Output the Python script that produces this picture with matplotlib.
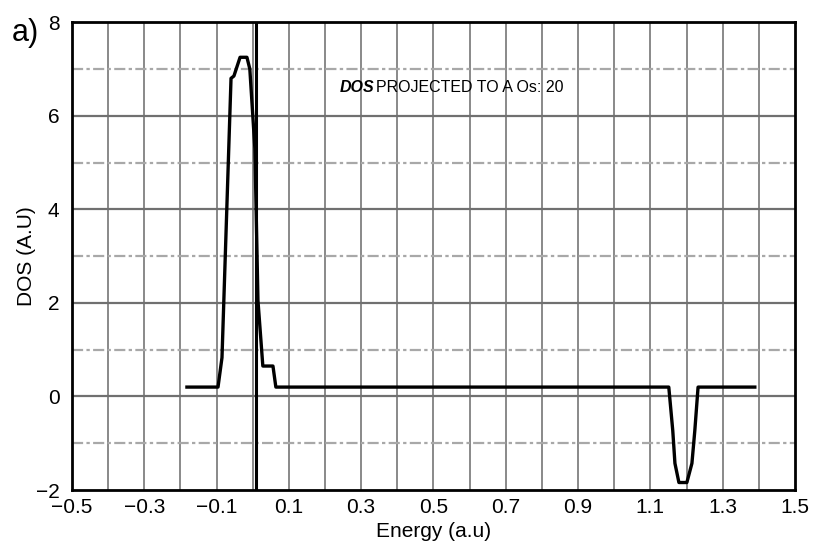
import numpy as np
import matplotlib.pyplot as plt

plt.rcParams["font.family"] = ["Liberation Sans", "DejaVu Sans"]

# DOS curve
energia = [-0.182, -0.096, -0.085, -0.060, -0.052, -0.035, -0.016, -0.008, 0.006,
           0.0145, 0.028, 0.056, 0.064, 0.60, 1.151, 1.162, 1.168, 1.179, 1.201,
           1.215, 1.223, 1.232, 1.389]
dos = [0.2, 0.2, 0.83, 6.8, 6.85, 7.25, 7.25, 7.0, 5.3,
       2.05, 0.65, 0.65, 0.2, 0.2, 0.2, -0.73, -1.43, -1.84, -1.84,
       -1.43, -0.73, 0.2, 0.2]
nivel_fermi = 0.01

xticks = [-0.5, -0.3, -0.1, 0.1, 0.3, 0.5, 0.7, 0.9, 1.1, 1.3, 1.5]
yticks = [-2, 0, 2, 4, 6, 8]

fig = plt.figure(figsize=(8.16, 5.51), dpi=100)
ax = fig.add_axes([0.0882, 0.1107, 0.886, 0.849])

# grade
for x in np.arange(-0.4, 1.45, 0.1):
    ax.axvline(x, color="#808080", linewidth=1.3, zorder=1)
for y in range(-1, 8):
    if y % 2 == 0:
        ax.axhline(y, color="#707070", linewidth=1.6, zorder=1)
    else:
        ax.axhline(y, color="#a8a8a8", linewidth=1.6, linestyle=(0, (5, 1.5, 1.5, 1.5)), zorder=1)

ax.axvline(nivel_fermi, color="black", linewidth=2.2, zorder=3)
ax.plot(energia, dos, color="black", linewidth=2.4, zorder=4)

ax.set_xlim(-0.5, 1.5)
ax.set_ylim(-2, 8)
ax.set_xticks(xticks)
ax.set_xticklabels([f"{v:.1f}".replace("-", "\u2212") for v in xticks])
ax.set_yticks(yticks)
ax.set_yticklabels([str(v).replace("-", "\u2212") for v in yticks])
ax.tick_params(length=0, labelsize=15)
ax.tick_params(axis="y", pad=9)
ax.tick_params(axis="x", pad=6)
for s in ax.spines.values():
    s.set_linewidth(2)

ax.set_xlabel("Energy (a.u)", fontsize=15, labelpad=3)
ax.set_ylabel("DOS (A.U)", fontsize=15)
ax.yaxis.set_label_coords(-0.05, 0.5)

ax.text(0.241, 6.6, "DOS", fontsize=11.5, fontweight="bold", fontstyle="italic",
        va="center", ha="left", zorder=5)
ax.text(0.341, 6.6, "PROJECTED TO A Os: 20", fontsize=11.5, va="center", ha="left", zorder=5)

fig.text(0.015, 0.94, "a)", fontsize=22, va="center", ha="left")

fig.savefig("out.png", dpi=100)
